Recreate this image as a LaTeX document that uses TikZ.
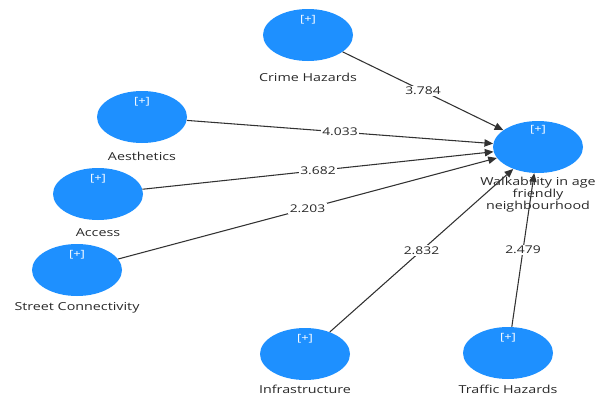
\documentclass[tikz,border=0pt]{standalone}
\usepackage{fontspec}
\setmainfont{Open Sans}[FakeStretch=1.3]
\usetikzlibrary{shapes.geometric,arrows.meta,calc}
\definecolor{lvblue}{RGB}{30,144,255}
\definecolor{edgegray}{RGB}{50,50,50}
\definecolor{txtgray}{RGB}{40,40,40}
\begin{document}
\begin{tikzpicture}[x=0.75pt,y=-0.75pt,
  lv/.style={ellipse,fill=lvblue,minimum width=67.5pt,minimum height=39pt,inner sep=0pt},
  plus/.style={text=white,font=\fontsize{7.5}{8}\selectfont,inner sep=0pt},
  lvname/.style={text=txtgray,font=\fontsize{8.25}{9}\selectfont,align=center,inner sep=0pt},
  pathline/.style={draw=edgegray,line width=0.8pt,-{Triangle[length=6.5pt,width=5.5pt]}},
  coef/.style={fill=white,inner sep=1pt,text=txtgray,font=\fontsize{8}{8}\selectfont}]
\useasboundingbox (0,0) rectangle (603,396);

% latent variables
\node[lv] (crime) at (308,35) {};
\node[lv] (aes) at (142,117) {};
\node[lv] (acc) at (98,194) {};
\node[lv] (street) at (77,270) {};
\node[lv] (infra) at (305,354) {};
\node[lv] (traffic) at (508,353) {};
\node[lv] (walk) at (538,147) {};

% [+] markers
\node[plus] (crimep) at (308,20) {[+]};
\node[plus] (aesp) at (142,102) {[+]};
\node[plus] (accp) at (98,179) {[+]};
\node[plus] (streetp) at (77,255) {[+]};
\node[plus] (infrap) at (305,339) {[+]};
\node[plus] (trafficp) at (508,338) {[+]};
\node[plus] (walkp) at (538,130) {[+]};

% names
\node[lvname] (crimen) at (308,77) {Crime Hazards};
\node[lvname] (aesn) at (142,156) {Aesthetics};
\node[lvname] (accn) at (98,233) {Access};
\node[lvname] (streetn) at (77,308) {Street Connectivity};
\node[lvname] (infran) at (305,389) {Infrastructure};
\node[lvname] (trafficn) at (508,389) {Traffic Hazards};
\node[lvname] (walkn) at (538,195) {Walkability in age\\friendly\\neighbourhood};

% paths
\draw[pathline] (crime) -- (walk);
\draw[pathline] (aes) -- (walk);
\draw[pathline] (acc) -- (walk);
\draw[pathline] (street) -- (walk);
\draw[pathline] (infra) -- (walk);
\draw[pathline] (traffic) -- (walk);

% coefficients
\node[coef] (c1) at ($(crime.center)!0.5!(walk.center)$) {3.784};
\node[coef] (c2) at ($(aes.center)!0.5!(walk.center)$) {4.033};
\node[coef] (c3) at ($(acc.center)!0.5!(walk.center)$) {3.682};
\node[coef] (c4) at ($(street.center)!0.5!(walk.center)$) {2.203};
\node[coef] (c5) at ($(infra.center)!0.5!(walk.center)$) {2.832};
\node[coef] (c6) at ($(traffic.center)!0.5!(walk.center)$) {2.479};
\end{tikzpicture}
\end{document}
